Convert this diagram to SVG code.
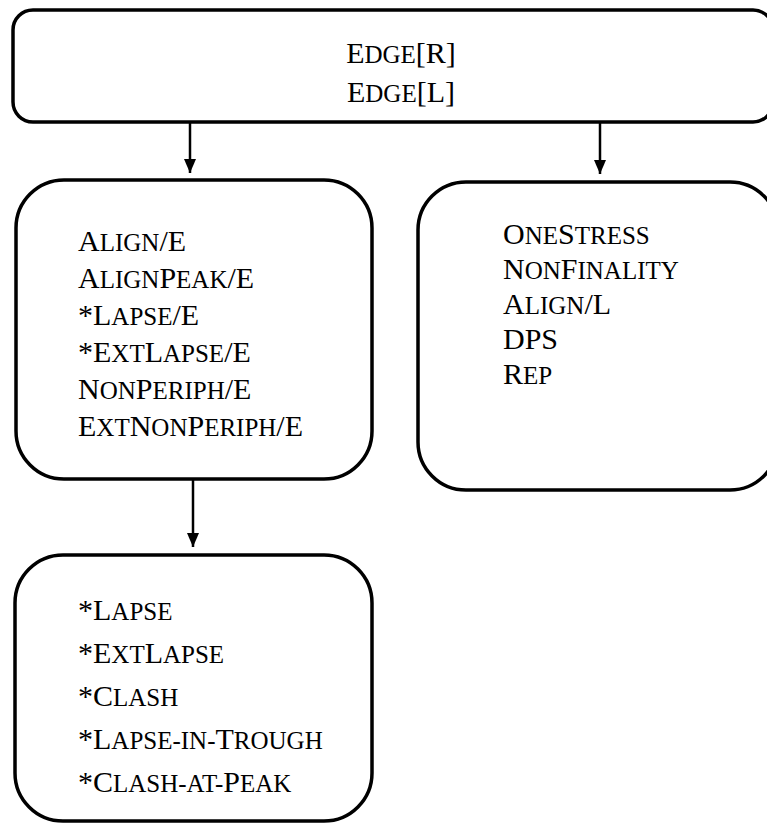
<svg xmlns="http://www.w3.org/2000/svg" width="767" height="823" viewBox="0 0 767 823">
<defs>
<style>
.box{fill:#fff;stroke:#000;stroke-width:3.5}
.t{font-family:"Liberation Serif","Times New Roman",serif;font-size:30px;fill:#000}
.s{font-size:25px}
.edge{stroke:#000;stroke-width:2.5;fill:none}
</style>
<marker id="ah" markerWidth="14" markerHeight="12" refX="14" refY="6" orient="auto" markerUnits="userSpaceOnUse" viewBox="0 0 14 12">
<path d="M0,0 L14,6 L0,12 Z" fill="#000"/>
</marker>
</defs>
<g id="connectors">
<line class="edge" x1="190" y1="122" x2="190" y2="173" marker-end="url(#ah)"/>
<line class="edge" x1="600" y1="122" x2="600" y2="174" marker-end="url(#ah)"/>
<line class="edge" x1="193" y1="480" x2="193" y2="547" marker-end="url(#ah)"/>
</g>
<g id="top">
<rect class="box" x="13" y="10" width="760" height="112" rx="20"/>
<text class="t" x="401" y="63" text-anchor="middle">E<tspan class="s">DGE</tspan>[R]</text>
<text class="t" x="401" y="102" text-anchor="middle">E<tspan class="s">DGE</tspan>[L]</text>
</g>
<g id="left">
<rect class="box" x="16" y="180" width="356" height="299" rx="48"/>
<text class="t" x="78" y="251">A<tspan class="s">LIGN</tspan>/E</text>
<text class="t" x="78" y="288">A<tspan class="s">LIGN</tspan>P<tspan class="s">EAK</tspan>/E</text>
<text class="t" x="78" y="325">*L<tspan class="s">APSE</tspan>/E</text>
<text class="t" x="78" y="362">*E<tspan class="s">XT</tspan>L<tspan class="s">APSE</tspan>/E</text>
<text class="t" x="78" y="399">N<tspan class="s">ON</tspan>P<tspan class="s">ERIPH</tspan>/E</text>
<text class="t" x="78" y="436">E<tspan class="s">XT</tspan>N<tspan class="s">ON</tspan>P<tspan class="s">ERIPH</tspan>/E</text>
</g>
<g id="right">
<rect class="box" x="418" y="182" width="360" height="308" rx="48"/>
<text class="t" x="503" y="244">O<tspan class="s">NE</tspan>S<tspan class="s">TRESS</tspan></text>
<text class="t" x="503" y="279">N<tspan class="s">ON</tspan>F<tspan class="s">INALITY</tspan></text>
<text class="t" x="503" y="314">A<tspan class="s">LIGN</tspan>/L</text>
<text class="t" x="503" y="349">DPS</text>
<text class="t" x="503" y="384">R<tspan class="s">EP</tspan></text>
</g>
<g id="bottom">
<rect class="box" x="15" y="555" width="357" height="266" rx="48"/>
<text class="t" x="78" y="620">*L<tspan class="s">APSE</tspan></text>
<text class="t" x="78" y="663">*E<tspan class="s">XT</tspan>L<tspan class="s">APSE</tspan></text>
<text class="t" x="78" y="706">*C<tspan class="s">LASH</tspan></text>
<text class="t" x="78" y="749">*L<tspan class="s">APSE-IN-</tspan>T<tspan class="s">ROUGH</tspan></text>
<text class="t" x="78" y="792">*C<tspan class="s">LASH-AT-</tspan>P<tspan class="s">EAK</tspan></text>
</g>
</svg>
